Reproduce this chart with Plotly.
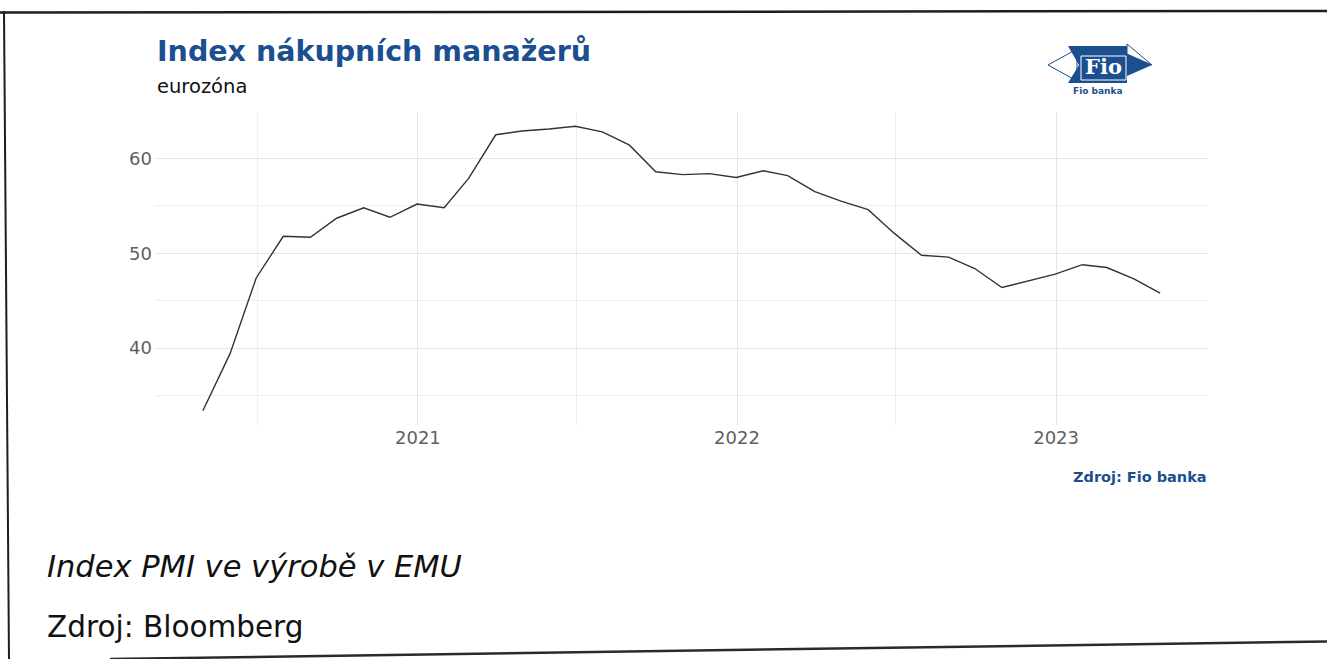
import plotly.graph_objects as go
import pandas as pd

# ---------------- data ----------------
months = [
    "2020-04-30", "2020-05-31", "2020-06-30", "2020-07-31", "2020-08-31", "2020-09-30",
    "2020-10-31", "2020-11-30", "2020-12-31",
    "2021-01-31", "2021-02-28", "2021-03-31", "2021-04-30", "2021-05-31", "2021-06-30",
    "2021-07-31", "2021-08-31", "2021-09-30", "2021-10-31", "2021-11-30", "2021-12-31",
    "2022-01-31", "2022-02-28", "2022-03-31", "2022-04-30", "2022-05-31", "2022-06-30",
    "2022-07-31", "2022-08-31", "2022-09-30", "2022-10-31", "2022-11-30", "2022-12-31",
    "2023-01-31", "2023-02-28", "2023-03-31", "2023-04-30",
]
pmi = [
    33.4, 39.4, 47.4, 51.8, 51.7, 53.7, 54.8, 53.8, 55.2,
    54.8, 57.9, 62.5, 62.9, 63.1, 63.4, 62.8, 61.4, 58.6, 58.3, 58.4, 58.0,
    58.7, 58.2, 56.5, 55.5, 54.6, 52.1, 49.8, 49.6, 48.4, 46.4, 47.1, 47.8,
    48.8, 48.5, 47.3, 45.8,
]
x_tick_vals = ["2021-01-01", "2022-01-01", "2023-01-01"]
x_tick_text = ["2021", "2022", "2023"]
x_minor_vals = ["2020-07-01", "2021-07-01", "2022-07-01"]
y_tick_vals = [40, 50, 60]
y_minor_vals = [35, 45, 55]

title_text = "Index nákupních manažerů"
subtitle_text = "eurozóna"
source_chart = "Zdroj: Fio banka"
caption_text = "Index PMI ve výrobě v EMU"
source_text = "Zdroj: Bloomberg"

# ---------------- layout geometry ----------------
W, H = 1327, 659
L, R, T, B = 155, 1208, 112, 425  # plot panel in pixels


def xp(px):
    return (px - L) / (R - L)


def yp(py):
    return (B - py) / (B - T)


# ggplot-like 5% expansion of the scales
dates = pd.to_datetime(months)
span = dates.max() - dates.min()
x_range = [dates.min() - span * 0.05, dates.max() + span * 0.05]
yspan = max(pmi) - min(pmi)
y_range = [min(pmi) - 0.05 * yspan, max(pmi) + 0.05 * yspan]

FONT = "DejaVu Sans"
BLUE = "#1B4F90"

fig = go.Figure()
fig.add_trace(go.Scatter(
    x=dates, y=pmi, mode="lines",
    line=dict(color="#333333", width=1.4),
    hoverinfo="x+y", showlegend=False,
))

grid_major = "#E6E6E6"
grid_minor = "#EFEFEF"

fig.update_layout(
    width=W, height=H,
    margin=dict(l=L, r=W - R, t=T, b=H - B, pad=0),
    paper_bgcolor="white", plot_bgcolor="white",
    font=dict(family=FONT, color="#5a5a5a"),
    xaxis=dict(
        type="date", range=x_range,
        tickmode="array", tickvals=x_tick_vals, ticktext=x_tick_text,
        showgrid=True, gridcolor=grid_major, gridwidth=1.3,
        minor=dict(tickvals=x_minor_vals, showgrid=True, gridcolor=grid_minor, gridwidth=1.1),
        zeroline=False, showline=False, ticks="",
        tickfont=dict(size=18, color="#5f5f5f", family=FONT),
        fixedrange=True,
    ),
    yaxis=dict(
        range=y_range,
        tickmode="array", tickvals=y_tick_vals,
        showgrid=True, gridcolor=grid_major, gridwidth=1.3,
        minor=dict(tickvals=y_minor_vals, showgrid=True, gridcolor=grid_minor, gridwidth=1.1),
        zeroline=False, showline=False, ticks="",
        tickfont=dict(size=18, color="#5f5f5f", family=FONT),
        ticklabelstandoff=2,
        fixedrange=True,
    ),
)

annotations = []


def ann(text, px, py, size, color, xanchor="left", weight="normal", style="normal", family=FONT):
    annotations.append(dict(
        text=text, x=xp(px), y=yp(py), xref="paper", yref="paper",
        xanchor=xanchor, yanchor="middle", showarrow=False,
        font=dict(family=family, size=size, color=color, weight=weight, style=style),
    ))


ann(title_text, 155, 52, 28.5, BLUE, weight="bold")
ann(subtitle_text, 155, 86, 19.5, "#111111")
ann(source_chart, 1209, 477, 14.5, BLUE, xanchor="right", weight="bold")
ann(caption_text, 45, 566, 30.5, "#111111", style="italic")
ann(source_text, 45, 627, 29.5, "#111111")

# logo text
ann("Fio", 1103, 66, 21, "white", xanchor="center", weight="bold", family="DejaVu Serif")
ann("Fio banka", 1098, 91, 9, BLUE, xanchor="center", weight="bold")

fig.update_layout(annotations=annotations)


def path(points):
    s = "M " + " L ".join(f"{xp(a):.5f},{yp(b):.5f}" for a, b in points) + " Z"
    return s


shapes = []
# Fio logo
shapes.append(dict(type="path", xref="paper", yref="paper",
                   path=path([(1048, 65), (1077, 49), (1077, 81)]),
                   fillcolor="white", line=dict(color=BLUE, width=1)))
shapes.append(dict(type="path", xref="paper", yref="paper",
                   path=path([(1068, 46), (1127, 46), (1127, 54), (1152, 65),
                              (1127, 76), (1127, 83), (1068, 83), (1079, 65)]),
                   fillcolor=BLUE, line=dict(color=BLUE, width=0)))
shapes.append(dict(type="path", xref="paper", yref="paper",
                   path=path([(1127, 44), (1152, 65), (1127, 54)]),
                   fillcolor="white", line=dict(color=BLUE, width=1)))
shapes.append(dict(type="rect", xref="paper", yref="paper",
                   x0=xp(1081), x1=xp(1126), y0=yp(80), y1=yp(56),
                   fillcolor="rgba(0,0,0,0)", line=dict(color="white", width=1)))

# page border lines (photographed document edges)
shapes.append(dict(type="line", xref="paper", yref="paper",
                   x0=xp(0), y0=yp(12.5), x1=xp(1327), y1=yp(11),
                   line=dict(color="#1e1e1e", width=2.5)))
shapes.append(dict(type="line", xref="paper", yref="paper",
                   x0=xp(4), y0=yp(11), x1=xp(9), y1=yp(659),
                   line=dict(color="#1e1e1e", width=2)))
shapes.append(dict(type="line", xref="paper", yref="paper",
                   x0=xp(110), y0=yp(659), x1=xp(1327), y1=yp(641.5),
                   line=dict(color="#2a2a2a", width=2.5)))

fig.update_layout(shapes=shapes)

fig.write_html(
    "out.html",
    config={"displayModeBar": False},
    post_script="document.body.style.margin='0px';document.body.style.overflow='hidden';",
)
